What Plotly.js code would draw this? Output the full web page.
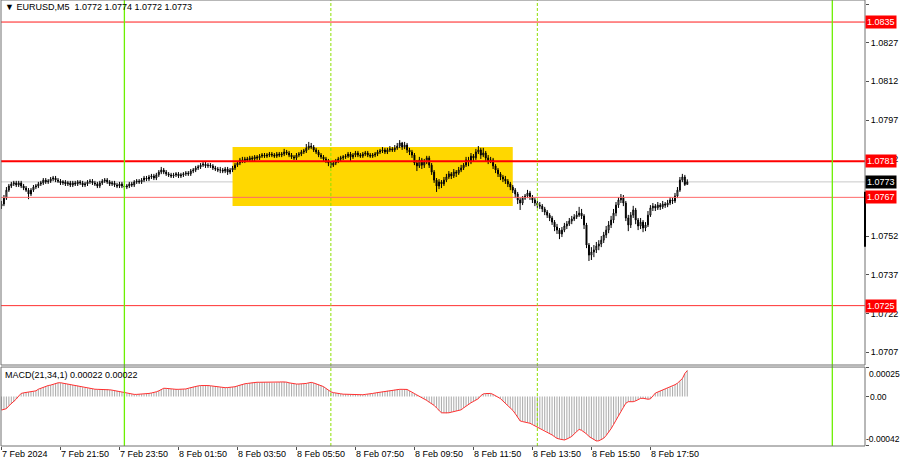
<!DOCTYPE html>
<html>
<head>
<meta charset="utf-8">
<script src="https://cdn.plot.ly/plotly-3.0.1.min.js"></script>
<style>
  html, body { margin: 0; padding: 0; background: #ffffff; }
  #chart { width: 900px; height: 460px; }
</style>
</head>
<body>
<div id="chart"></div>
<script>
// ---------------- DATA ----------------
const symbolName = 'EURUSD,M5';
const firstBar = Date.UTC(2024, 1, 7, 19, 50); // first visible M5 bar
const barMinutes = 5;

const opens = [
1.07636,1.07644,1.07667,1.07698,1.07714,1.07722,1.07726,1.07718,1.07726,1.07714,
1.07706,1.07698,1.07683,1.07698,1.07710,1.07714,1.07722,1.07726,1.07737,1.07730,
1.07733,1.07741,1.07745,1.07737,1.07733,1.07726,1.07730,1.07722,1.07726,1.07718,
1.07726,1.07722,1.07730,1.07726,1.07718,1.07722,1.07730,1.07733,1.07726,1.07722,
1.07714,1.07726,1.07733,1.07737,1.07730,1.07722,1.07726,1.07718,1.07714,1.07722,
1.07714,1.07710,1.07714,1.07722,1.07718,1.07730,1.07733,1.07730,1.07737,1.07745,
1.07741,1.07749,1.07753,1.07745,1.07757,1.07768,1.07776,1.07768,1.07761,1.07757,
1.07753,1.07757,1.07761,1.07753,1.07757,1.07761,1.07764,1.07761,1.07772,1.07776,
1.07784,1.07788,1.07795,1.07799,1.07792,1.07795,1.07792,1.07784,1.07780,1.07776,
1.07776,1.07772,1.07780,1.07768,1.07776,1.07784,1.07795,1.07803,1.07815,1.07811,
1.07819,1.07815,1.07823,1.07819,1.07827,1.07823,1.07830,1.07834,1.07830,1.07834,
1.07838,1.07834,1.07830,1.07838,1.07834,1.07838,1.07846,1.07842,1.07834,1.07827,
1.07823,1.07834,1.07838,1.07846,1.07850,1.07861,1.07869,1.07865,1.07854,1.07846,
1.07834,1.07827,1.07819,1.07811,1.07803,1.07795,1.07803,1.07811,1.07819,1.07823,
1.07827,1.07830,1.07838,1.07827,1.07834,1.07842,1.07834,1.07830,1.07838,1.07842,
1.07834,1.07830,1.07834,1.07838,1.07846,1.07850,1.07854,1.07846,1.07854,1.07858,
1.07854,1.07861,1.07869,1.07881,1.07865,1.07873,1.07854,1.07846,1.07834,1.07803,
1.07792,1.07815,1.07795,1.07807,1.07823,1.07795,1.07768,1.07737,1.07714,1.07730,
1.07722,1.07737,1.07749,1.07761,1.07753,1.07768,1.07764,1.07776,1.07784,1.07795,
1.07815,1.07807,1.07830,1.07823,1.07846,1.07854,1.07834,1.07842,1.07823,1.07811,
1.07815,1.07792,1.07776,1.07761,1.07749,1.07741,1.07733,1.07722,1.07710,1.07698,
1.07683,1.07660,1.07648,1.07667,1.07675,1.07687,1.07671,1.07660,1.07648,1.07640,
1.07636,1.07625,1.07613,1.07601,1.07590,1.07574,1.07555,1.07543,1.07528,1.07543,
1.07559,1.07567,1.07578,1.07586,1.07594,1.07601,1.07609,1.07598,1.07563,1.07485,
1.07446,1.07458,1.07466,1.07481,1.07489,1.07504,1.07524,1.07543,1.07563,1.07582,
1.07609,1.07640,1.07660,1.07671,1.07648,1.07590,1.07563,1.07601,1.07621,1.07582,
1.07559,1.07574,1.07551,1.07563,1.07601,1.07629,1.07636,1.07629,1.07640,1.07633,
1.07644,1.07640,1.07648,1.07660,1.07656,1.07675,1.07698,1.07737,1.07749,1.07720
];
const highs = [
1.07656,1.07679,1.07710,1.07722,1.07730,1.07734,1.07734,1.07734,1.07734,1.07722,
1.07714,1.07706,1.07706,1.07718,1.07722,1.07730,1.07734,1.07745,1.07745,1.07741,
1.07749,1.07753,1.07753,1.07745,1.07741,1.07737,1.07737,1.07734,1.07734,1.07734,
1.07734,1.07737,1.07737,1.07734,1.07730,1.07737,1.07741,1.07741,1.07734,1.07730,
1.07734,1.07741,1.07745,1.07745,1.07737,1.07734,1.07734,1.07726,1.07730,1.07730,
1.07722,1.07722,1.07730,1.07730,1.07737,1.07741,1.07741,1.07745,1.07753,1.07753,
1.07757,1.07761,1.07761,1.07765,1.07776,1.07788,1.07784,1.07776,1.07768,1.07765,
1.07765,1.07768,1.07768,1.07765,1.07768,1.07772,1.07772,1.07780,1.07784,1.07792,
1.07796,1.07803,1.07807,1.07807,1.07803,1.07803,1.07799,1.07792,1.07788,1.07788,
1.07784,1.07788,1.07788,1.07784,1.07792,1.07803,1.07811,1.07823,1.07827,1.07827,
1.07827,1.07831,1.07831,1.07834,1.07834,1.07838,1.07842,1.07842,1.07842,1.07846,
1.07846,1.07842,1.07846,1.07846,1.07846,1.07858,1.07854,1.07850,1.07842,1.07834,
1.07842,1.07846,1.07854,1.07858,1.07877,1.07885,1.07881,1.07873,1.07862,1.07854,
1.07842,1.07834,1.07827,1.07819,1.07811,1.07811,1.07819,1.07827,1.07831,1.07834,
1.07838,1.07846,1.07846,1.07842,1.07850,1.07850,1.07842,1.07846,1.07850,1.07850,
1.07842,1.07842,1.07846,1.07854,1.07858,1.07865,1.07862,1.07862,1.07869,1.07865,
1.07873,1.07881,1.07892,1.07885,1.07885,1.07881,1.07862,1.07854,1.07842,1.07815,
1.07827,1.07823,1.07819,1.07831,1.07831,1.07803,1.07776,1.07745,1.07741,1.07737,
1.07749,1.07761,1.07772,1.07768,1.07780,1.07776,1.07788,1.07796,1.07803,1.07827,
1.07827,1.07842,1.07838,1.07858,1.07869,1.07862,1.07862,1.07850,1.07834,1.07827,
1.07823,1.07799,1.07784,1.07768,1.07757,1.07753,1.07741,1.07730,1.07718,1.07706,
1.07691,1.07668,1.07675,1.07683,1.07699,1.07695,1.07679,1.07668,1.07656,1.07652,
1.07644,1.07633,1.07621,1.07609,1.07598,1.07582,1.07567,1.07551,1.07555,1.07571,
1.07578,1.07590,1.07598,1.07605,1.07617,1.07633,1.07625,1.07605,1.07571,1.07493,
1.07477,1.07485,1.07497,1.07504,1.07520,1.07536,1.07559,1.07578,1.07598,1.07625,
1.07652,1.07671,1.07683,1.07679,1.07656,1.07602,1.07613,1.07637,1.07629,1.07590,
1.07590,1.07582,1.07574,1.07617,1.07640,1.07648,1.07644,1.07652,1.07648,1.07656,
1.07652,1.07660,1.07671,1.07668,1.07687,1.07710,1.07749,1.07761,1.07757,1.07740
];
const lows = [
1.07625,1.07636,1.07660,1.07691,1.07706,1.07714,1.07710,1.07710,1.07706,1.07698,
1.07691,1.07663,1.07675,1.07691,1.07702,1.07706,1.07714,1.07718,1.07722,1.07722,
1.07726,1.07733,1.07729,1.07726,1.07718,1.07718,1.07714,1.07714,1.07710,1.07710,
1.07714,1.07714,1.07718,1.07710,1.07710,1.07714,1.07722,1.07718,1.07714,1.07706,
1.07706,1.07718,1.07726,1.07722,1.07714,1.07714,1.07710,1.07706,1.07706,1.07706,
1.07698,1.07702,1.07706,1.07710,1.07710,1.07722,1.07722,1.07722,1.07729,1.07733,
1.07733,1.07741,1.07737,1.07737,1.07749,1.07760,1.07760,1.07753,1.07749,1.07745,
1.07745,1.07749,1.07745,1.07745,1.07749,1.07753,1.07753,1.07753,1.07764,1.07768,
1.07776,1.07780,1.07788,1.07784,1.07784,1.07784,1.07776,1.07772,1.07768,1.07764,
1.07764,1.07764,1.07757,1.07760,1.07768,1.07776,1.07788,1.07795,1.07803,1.07803,
1.07807,1.07807,1.07811,1.07811,1.07815,1.07815,1.07823,1.07823,1.07823,1.07826,
1.07826,1.07823,1.07823,1.07826,1.07826,1.07830,1.07834,1.07826,1.07819,1.07815,
1.07815,1.07826,1.07830,1.07838,1.07842,1.07854,1.07857,1.07846,1.07838,1.07826,
1.07819,1.07811,1.07803,1.07791,1.07784,1.07788,1.07795,1.07803,1.07811,1.07815,
1.07819,1.07823,1.07811,1.07819,1.07826,1.07826,1.07823,1.07823,1.07830,1.07826,
1.07823,1.07823,1.07826,1.07830,1.07838,1.07842,1.07838,1.07838,1.07846,1.07846,
1.07846,1.07854,1.07861,1.07854,1.07857,1.07842,1.07834,1.07823,1.07795,1.07772,
1.07784,1.07780,1.07784,1.07799,1.07784,1.07757,1.07726,1.07691,1.07702,1.07706,
1.07714,1.07729,1.07741,1.07741,1.07745,1.07749,1.07757,1.07768,1.07776,1.07788,
1.07791,1.07799,1.07807,1.07815,1.07838,1.07819,1.07826,1.07811,1.07799,1.07803,
1.07780,1.07764,1.07749,1.07737,1.07729,1.07722,1.07710,1.07698,1.07687,1.07667,
1.07644,1.07621,1.07640,1.07660,1.07667,1.07660,1.07648,1.07636,1.07629,1.07625,
1.07613,1.07601,1.07590,1.07578,1.07563,1.07539,1.07528,1.07508,1.07516,1.07535,
1.07547,1.07559,1.07566,1.07578,1.07586,1.07594,1.07586,1.07547,1.07473,1.07423,
1.07427,1.07438,1.07454,1.07465,1.07477,1.07493,1.07512,1.07531,1.07551,1.07570,
1.07597,1.07629,1.07648,1.07636,1.07578,1.07539,1.07551,1.07590,1.07566,1.07543,
1.07547,1.07535,1.07539,1.07555,1.07594,1.07617,1.07617,1.07621,1.07621,1.07625,
1.07629,1.07632,1.07640,1.07644,1.07648,1.07667,1.07691,1.07729,1.07714,1.07720
];
const closes = [
1.07644,1.07667,1.07698,1.07714,1.07722,1.07726,1.07718,1.07726,1.07714,1.07706,
1.07698,1.07683,1.07698,1.07710,1.07714,1.07722,1.07726,1.07737,1.07730,1.07733,
1.07741,1.07745,1.07737,1.07733,1.07726,1.07730,1.07722,1.07726,1.07718,1.07726,
1.07722,1.07730,1.07726,1.07718,1.07722,1.07730,1.07733,1.07726,1.07722,1.07714,
1.07726,1.07733,1.07737,1.07730,1.07722,1.07726,1.07718,1.07714,1.07722,1.07714,
1.07710,1.07714,1.07722,1.07718,1.07730,1.07733,1.07730,1.07737,1.07745,1.07741,
1.07749,1.07753,1.07745,1.07757,1.07768,1.07776,1.07768,1.07761,1.07757,1.07753,
1.07757,1.07761,1.07753,1.07757,1.07761,1.07764,1.07761,1.07772,1.07776,1.07784,
1.07788,1.07795,1.07799,1.07792,1.07795,1.07792,1.07784,1.07780,1.07776,1.07776,
1.07772,1.07780,1.07768,1.07776,1.07784,1.07795,1.07803,1.07815,1.07811,1.07819,
1.07815,1.07823,1.07819,1.07827,1.07823,1.07830,1.07834,1.07830,1.07834,1.07838,
1.07834,1.07830,1.07838,1.07834,1.07838,1.07846,1.07842,1.07834,1.07827,1.07823,
1.07834,1.07838,1.07846,1.07850,1.07861,1.07869,1.07865,1.07854,1.07846,1.07834,
1.07827,1.07819,1.07811,1.07803,1.07795,1.07803,1.07811,1.07819,1.07823,1.07827,
1.07830,1.07838,1.07827,1.07834,1.07842,1.07834,1.07830,1.07838,1.07842,1.07834,
1.07830,1.07834,1.07838,1.07846,1.07850,1.07854,1.07846,1.07854,1.07858,1.07854,
1.07861,1.07869,1.07881,1.07865,1.07873,1.07854,1.07846,1.07834,1.07803,1.07792,
1.07815,1.07795,1.07807,1.07823,1.07795,1.07768,1.07737,1.07714,1.07730,1.07722,
1.07737,1.07749,1.07761,1.07753,1.07768,1.07764,1.07776,1.07784,1.07795,1.07815,
1.07807,1.07830,1.07823,1.07846,1.07854,1.07834,1.07842,1.07823,1.07811,1.07815,
1.07792,1.07776,1.07761,1.07749,1.07741,1.07733,1.07722,1.07710,1.07698,1.07683,
1.07660,1.07648,1.07667,1.07675,1.07687,1.07671,1.07660,1.07648,1.07640,1.07636,
1.07625,1.07613,1.07601,1.07590,1.07574,1.07555,1.07543,1.07528,1.07543,1.07559,
1.07567,1.07578,1.07586,1.07594,1.07601,1.07609,1.07598,1.07563,1.07485,1.07446,
1.07458,1.07466,1.07481,1.07489,1.07504,1.07524,1.07543,1.07563,1.07582,1.07609,
1.07640,1.07660,1.07671,1.07648,1.07590,1.07563,1.07601,1.07621,1.07582,1.07559,
1.07574,1.07551,1.07563,1.07601,1.07629,1.07636,1.07629,1.07640,1.07633,1.07644,
1.07640,1.07648,1.07660,1.07656,1.07675,1.07698,1.07737,1.07749,1.07720,1.07730
];
const macd = [
-0.000115,-0.000110,-0.000103,-0.000079,-0.000062,-0.000044,-0.000022,0.000004,0.000026,0.000031,
0.000035,0.000037,0.000039,0.000041,0.000048,0.000062,0.000071,0.000079,0.000084,0.000093,
0.000097,0.000104,0.000110,0.000116,0.000117,0.000113,0.000108,0.000106,0.000101,0.000097,
0.000093,0.000091,0.000085,0.000079,0.000073,0.000070,0.000067,0.000063,0.000062,0.000061,
0.000061,0.000062,0.000061,0.000061,0.000057,0.000054,0.000050,0.000046,0.000041,0.000036,
0.000031,0.000026,0.000022,0.000019,0.000018,0.000018,0.000019,0.000019,0.000019,0.000023,
0.000026,0.000030,0.000033,0.000040,0.000048,0.000060,0.000070,0.000069,0.000066,0.000063,
0.000061,0.000061,0.000061,0.000061,0.000061,0.000064,0.000070,0.000076,0.000082,0.000086,
0.000090,0.000093,0.000095,0.000094,0.000093,0.000091,0.000088,0.000086,0.000082,0.000078,
0.000075,0.000075,0.000076,0.000078,0.000079,0.000083,0.000090,0.000097,0.000104,0.000108,
0.000111,0.000115,0.000118,0.000121,0.000121,0.000121,0.000121,0.000121,0.000120,0.000119,
0.000117,0.000117,0.000120,0.000123,0.000124,0.000126,0.000122,0.000116,0.000111,0.000106,
0.000106,0.000106,0.000106,0.000106,0.000111,0.000116,0.000120,0.000115,0.000108,0.000101,
0.000095,0.000084,0.000069,0.000053,0.000040,0.000033,0.000028,0.000026,0.000023,0.000020,
0.000019,0.000019,0.000017,0.000015,0.000013,0.000012,0.000013,0.000015,0.000018,0.000019,
0.000023,0.000026,0.000030,0.000033,0.000037,0.000041,0.000046,0.000049,0.000052,0.000056,
0.000058,0.000061,0.000061,0.000061,0.000061,0.000060,0.000048,0.000033,0.000025,0.000013,
0.000003,-0.000008,-0.000018,-0.000033,-0.000048,-0.000062,-0.000075,-0.000097,-0.000119,-0.000138,
-0.000139,-0.000141,-0.000138,-0.000133,-0.000128,-0.000123,-0.000119,-0.000113,-0.000097,-0.000081,
-0.000066,-0.000053,-0.000042,-0.000030,-0.000018,0.000007,0.000022,0.000025,0.000026,0.000026,
0.000018,0.000007,-0.000003,-0.000018,-0.000038,-0.000056,-0.000075,-0.000095,-0.000117,-0.000145,
-0.000176,-0.000207,-0.000213,-0.000217,-0.000219,-0.000227,-0.000238,-0.000249,-0.000256,-0.000266,
-0.000277,-0.000287,-0.000300,-0.000313,-0.000326,-0.000341,-0.000355,-0.000361,-0.000368,-0.000369,
-0.000361,-0.000351,-0.000339,-0.000317,-0.000295,-0.000279,-0.000287,-0.000300,-0.000317,-0.000339,
-0.000354,-0.000368,-0.000377,-0.000376,-0.000366,-0.000354,-0.000331,-0.000304,-0.000273,-0.000238,
-0.000198,-0.000163,-0.000128,-0.000093,-0.000057,-0.000044,-0.000044,-0.000044,-0.000037,-0.000026,
-0.000016,-0.000015,-0.000019,-0.000023,-0.000020,0.000004,0.000029,0.000038,0.000047,0.000056,
0.000063,0.000070,0.000078,0.000086,0.000100,0.000113,0.000130,0.000152,0.000195,0.000220
];

// price axis ticks
const priceTicks = [1.0842, 1.0827, 1.0812, 1.0797, 1.0782, 1.0767, 1.0752, 1.0737, 1.0722, 1.0707];
const macdTicks = [0.00025, 0.00, -0.00042];
const macdTickText = ['0.00025', '0.00', '-0.00042'];
// time axis labels
const timeTicks = ['2024-02-07 19:50','2024-02-07 21:50','2024-02-07 23:50','2024-02-08 01:50',
  '2024-02-08 03:50','2024-02-08 05:50','2024-02-08 07:50','2024-02-08 09:50',
  '2024-02-08 11:50','2024-02-08 13:50','2024-02-08 15:50','2024-02-08 17:50'];
const timeTickText = ['7 Feb 2024','7 Feb 21:50','7 Feb 23:50','8 Feb 01:50','8 Feb 03:50',
  '8 Feb 05:50','8 Feb 07:50','8 Feb 09:50','8 Feb 11:50','8 Feb 13:50','8 Feb 15:50','8 Feb 17:50'];

// horizontal levels
const levels = [1.0835, 1.0781, 1.0767, 1.0725];
// day separators & session lines
const dayLines = ['2024-02-08 00:00', '2024-02-09 00:00'];
const sessionLines = ['2024-02-08 07:00', '2024-02-08 14:00'];
// highlighted zone
const zoneTimes = ['2024-02-08 03:40', '2024-02-08 13:10'];
const zonePrices = [1.07636, 1.07865];
// marker on price scale
const scaleMarker = [1.07692, 1.07478];
const macdParams = '21,34,1';

// --------------- BUILD ----------------
function fmt(ms) { return new Date(ms).toISOString().slice(0, 16).replace('T', ' '); }
const times = closes.map((_, i) => fmt(firstBar + i * barMinutes * 60000));
const last = closes.length - 1;

const FONT = '"Liberation Sans Narrow", "Liberation Sans", Arial, sans-serif';

const traces = [
  {
    type: 'candlestick', x: times, open: opens, high: highs, low: lows, close: closes,
    xaxis: 'x', yaxis: 'y',
    increasing: { line: { color: '#000000', width: 1 }, fillcolor: '#ffffff' },
    decreasing: { line: { color: '#000000', width: 1 }, fillcolor: '#000000' },
    whiskerwidth: 0, hoverinfo: 'skip', showlegend: false
  },
  {
    type: 'bar', x: times, y: macd, xaxis: 'x', yaxis: 'y2',
    marker: { color: '#b0b0b0', line: { width: 0 } }, hoverinfo: 'skip', showlegend: false
  },
  {
    type: 'scatter', mode: 'lines', x: times, y: macd, xaxis: 'x', yaxis: 'y2',
    line: { color: '#ff3030', width: 1 }, hoverinfo: 'skip', showlegend: false
  }
];

const shapes = [];
shapes.push({ type: 'rect', xref: 'x', yref: 'y', x0: zoneTimes[0], x1: zoneTimes[1],
  y0: zonePrices[0], y1: zonePrices[1], fillcolor: '#ffd700', line: { width: 0 }, layer: 'below' });
shapes.push({ type: 'line', xref: 'paper', yref: 'y', x0: 0, x1: 1, y0: closes[last], y1: closes[last],
  line: { color: '#c8c8c8', width: 1 }, layer: 'below' });
const levelStyle = [
  { color: '#ff1a1a', width: 1 }, { color: '#ff0000', width: 2 },
  { color: '#ff6a6a', width: 1 }, { color: '#ff3030', width: 1 }
];
levels.forEach((v, k) => shapes.push({ type: 'line', xref: 'paper', yref: 'y', x0: 0, x1: 1, y0: v, y1: v,
  line: levelStyle[k], layer: 'above' }));
dayLines.forEach(t => shapes.push({ type: 'line', xref: 'x', yref: 'paper', x0: t, x1: t, y0: 0, y1: 1,
  line: { color: '#6cf000', width: 1.3 }, layer: 'above' }));
sessionLines.forEach(t => shapes.push({ type: 'line', xref: 'x', yref: 'paper', x0: t, x1: t, y0: 0, y1: 1,
  line: { color: '#8ee000', width: 1, dash: '3px,2px' }, layer: 'above' }));
shapes.push({ type: 'rect', xref: 'paper', yref: 'y domain', x0: 0, x1: 1, y0: 0, y1: 1,
  line: { color: '#707070', width: 1 }, fillcolor: 'rgba(0,0,0,0)', layer: 'above' });
shapes.push({ type: 'rect', xref: 'paper', yref: 'y2 domain', x0: 0, x1: 1, y0: 0, y1: 1,
  line: { color: '#707070', width: 1 }, fillcolor: 'rgba(0,0,0,0)', layer: 'above' });
shapes.push({ type: 'line', xref: 'paper', yref: 'y', x0: 1, x1: 1, y0: scaleMarker[0], y1: scaleMarker[1],
  line: { color: '#000000', width: 2 }, layer: 'above' });

const annotations = [];
annotations.push({ xref: 'paper', yref: 'paper', x: 0, y: 1, xanchor: 'left', yanchor: 'top',
  xshift: 2, yshift: 0, showarrow: false,
  text: '▼ ' + symbolName + '  ' + [opens[last], highs[last], lows[last], closes[last]].map(v => v.toFixed(4)).join(' '),
  font: { family: FONT, size: 9, color: '#000000' } });
annotations.push({ xref: 'paper', yref: 'y2 domain', x: 0, y: 1, xanchor: 'left', yanchor: 'top',
  xshift: 2, yshift: -1, showarrow: false,
  text: 'MACD(' + macdParams + ') ' + macd[last].toFixed(5) + ' ' + macd[last].toFixed(5),
  font: { family: FONT, size: 9, color: '#000000' } });
timeTicks.forEach((t, k) => annotations.push({ xref: 'x', yref: 'paper', x: t, y: 0,
  xanchor: 'left', yanchor: 'top', xshift: -1, yshift: -1, showarrow: false, text: timeTickText[k],
  font: { family: FONT, size: 9, color: '#000000' } }));
const macdAnch = ['top', 'middle', 'bottom'];
const macdShift = [2, 3, -1];
macdTicks.forEach((v, k) => annotations.push({ xref: 'paper', yref: 'y2', x: 1, y: v,
  xanchor: 'left', yanchor: macdAnch[k], xshift: macdShift[k], showarrow: false, text: macdTickText[k],
  font: { family: FONT, size: 8.5, color: '#000000' } }));
levels.forEach(v => annotations.push({ xref: 'paper', yref: 'y', x: 1, y: v, xanchor: 'left', yanchor: 'middle',
  xshift: 0, showarrow: false, text: v.toFixed(4), bgcolor: '#ff0000', borderpad: 1,
  font: { family: FONT, size: 9, color: '#ffffff' } }));
annotations.push({ xref: 'paper', yref: 'y', x: 1, y: closes[last], xanchor: 'left', yanchor: 'middle',
  xshift: 0, showarrow: false, text: closes[last].toFixed(4), bgcolor: '#000000', borderpad: 1,
  font: { family: FONT, size: 9, color: '#ffffff' } });

// price tick labels: the one fully hidden under a level box is left blank
const priceTickText = priceTicks.map(v => levels.some(l => Math.abs(l - v) < 1e-6) ? '' : v.toFixed(4));

const layout = {
  width: 900, height: 460,
  margin: { l: 1, r: 35, t: 0, b: 14, pad: 0 },
  paper_bgcolor: '#ffffff', plot_bgcolor: '#ffffff',
  showlegend: false, boxgap: 0.45, bargap: 0.55,
  font: { family: FONT, size: 9, color: '#000000' },
  xaxis: {
    type: 'date', range: [firstBar - 0.2 * barMinutes * 60000, firstBar + 351.3 * barMinutes * 60000],
    anchor: 'y2', showgrid: false, zeroline: false, showline: false,
    tickmode: 'array', tickvals: timeTicks, ticktext: timeTickText.map(() => ''),
    ticks: 'outside', ticklen: 3, tickcolor: '#505050', showticklabels: false,
    rangeslider: { visible: false }, fixedrange: true
  },
  yaxis: {
    domain: [0.1816, 1], range: [1.070197, 1.084355], side: 'right', anchor: 'x',
    showgrid: false, zeroline: false, showline: false,
    tickmode: 'array', tickvals: priceTicks, ticktext: priceTickText,
    ticks: 'outside', ticklen: 3, tickcolor: '#505050',
    tickfont: { family: FONT, size: 9, color: '#000000' }, fixedrange: true
  },
  yaxis2: {
    domain: [0, 0.177], range: [-0.00042, 0.00025], side: 'right', anchor: 'x',
    showgrid: false, zeroline: false, showline: false,
    tickmode: 'array', tickvals: macdTicks, showticklabels: false,
    ticks: 'outside', ticklen: 3, tickcolor: '#505050', fixedrange: true
  },
  shapes: shapes,
  annotations: annotations
};

Plotly.newPlot('chart', traces, layout, { staticPlot: true, displayModeBar: false });
</script>
</body>
</html>
